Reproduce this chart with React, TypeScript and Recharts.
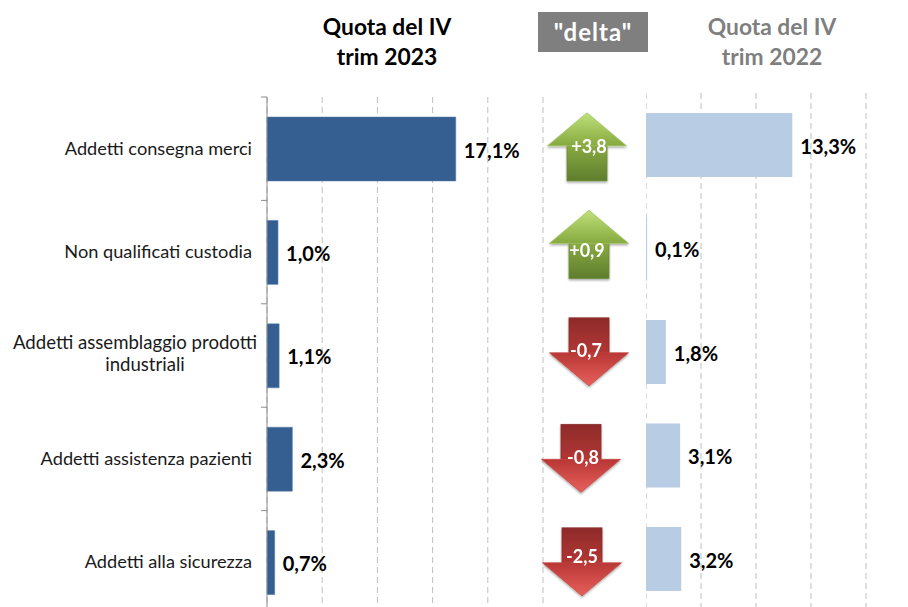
import { BarChart, Bar, XAxis, YAxis, CartesianGrid, LabelList } from 'recharts'

const categories = [
  'Addetti consegna merci',
  'Non qualificati custodia',
  'Addetti assemblaggio prodotti industriali',
  'Addetti assistenza pazienti',
  'Addetti alla sicurezza',
]
const quota2023 = [17.1, 1.0, 1.1, 2.3, 0.7]
const quota2022 = [13.3, 0.1, 1.8, 3.1, 3.2]
const delta = [3.8, 0.9, -0.7, -0.8, -2.5]

const gridTicks2023 = [0, 5, 10, 15, 20, 25]
const gridTicks2022 = [0, 5, 10, 15, 20]

const dataLeft = categories.map((name, i) => ({ name, value: quota2023[i] }))
const dataRight = categories.map((name, i) => ({ name, value: quota2022[i] }))
const dataDelta = categories.map((name, i) => ({ name, value: delta[i] }))

// arrows were hand placed in the original, so they sit a bit off the bands
const arrowOffsetX = [2, 4, 4, -4, -3]
const arrowOffsetY = [0, -6, -2, 1, 1]
const arrowTextX = [2, -2, -3, 2, 0]
const arrowTextY = [0, 6, -1, -1, -5]

const FONT = 'Lato, sans-serif'
const pct = (v: any) => `${Number(v).toFixed(1).replace('.', ',')}%`
const signed = (v: number) => `${v > 0 ? '+' : ''}${v.toFixed(1).replace('.', ',')}`

function ValueLabel({ x, y, width, height, value }: any) {
  return (
    <text
      x={x + width + 8}
      y={y + height / 2 + 1.5}
      dy="0.35em"
      fontFamily={FONT}
      fontWeight={700}
      fontSize={20}
      fill="#000"
    >
      {pct(value)}
    </text>
  )
}

function CategoryTick({ x, y, payload }: any) {
  const words = payload.value === categories[2]
    ? ['Addetti assemblaggio prodotti', 'industriali']
    : [payload.value]
  const band = 103.4
  return (
    <g>
      <line x1={261} x2={267} y1={y - band / 2} y2={y - band / 2} stroke="#8c8c8c" />
      {words.length === 1 ? (
        <text x={252} y={y} dy="0.32em" textAnchor="end" fontSize={18.2} fill="#1a1a1a" fontFamily={FONT}>
          {words[0]}
        </text>
      ) : (
        <text fontSize={18.6} fill="#1a1a1a" fontFamily={FONT} textAnchor="middle">
          <tspan x={135} y={y - 12} dy="0.32em">{words[0]}</tspan>
          <tspan x={145} y={y + 10} dy="0.32em">{words[1]}</tspan>
        </text>
      )}
    </g>
  )
}

function Arrow(props: any) {
  const { y, height, index, payload } = props
  const v = payload.value
  const cx = 60 + arrowOffsetX[index]
  const cy = y + height / 2 + arrowOffsetY[index]
  const up = v > 0
  const s = up ? 1 : -1
  const wing = cy - s * 1
  const tip = cy - s * 34
  const end = cy + s * 34
  return (
    <g filter="url(#arrowShadow)">
      <rect
        x={cx - 20}
        y={Math.min(wing, end)}
        width={40}
        height={Math.abs(end - wing)}
        fill={`url(#${up ? 'greenShaft' : 'redShaft'})`}
        stroke={up ? '#6b8a33' : '#8a2c2c'}
        strokeWidth={0.8}
      />
      <polygon
        points={`${cx},${tip} ${cx - 39.5},${wing} ${cx + 39.5},${wing}`}
        fill={`url(#${up ? 'greenHead' : 'redHead'})`}
        stroke={up ? '#a5c765' : '#c64643'}
        strokeWidth={0.8}
      />
      <text
        x={cx + arrowTextX[index]}
        y={cy + arrowTextY[index]}
        dy="0.35em"
        textAnchor="middle"
        fontSize={18}
        fontWeight={700}
        fill="#fff"
        fontFamily={FONT}
      >
        {signed(v)}
      </text>
    </g>
  )
}

const titleStyle: any = {
  position: 'absolute',
  width: 200,
  textAlign: 'center',
  fontFamily: FONT,
  fontWeight: 700,
  fontSize: 22.8,
  lineHeight: '30px',
}

export default function App() {
  return (
    <div style={{ position: 'relative', width: 908, height: 607, overflow: 'hidden', background: '#fff' }}>
      <style>{'body{margin:0}'}</style>

      <div style={{ ...titleStyle, left: 287, top: 11, color: '#000' }}>Quota del IV<br />trim 2023</div>
      <div style={{ ...titleStyle, left: 672, top: 11, color: '#7f7f7f' }}>Quota del IV<br />trim 2022</div>
      <div
        style={{
          position: 'absolute', left: 538, top: 12, width: 110, height: 40, background: '#7f7f7f', color: '#fff',
          fontFamily: FONT, fontWeight: 700, fontSize: 24, lineHeight: '40px', textAlign: 'center', letterSpacing: 1,
        }}
      >
        "delta"
      </div>

      <div style={{ position: 'absolute', left: 0, top: 0 }}>
        <BarChart
          width={560}
          height={640}
          data={dataLeft}
          layout="vertical"
          margin={{ top: 97, right: 17, bottom: 26, left: 0 }}
        >
          <CartesianGrid horizontal={false} stroke="#bfbfbf" strokeDasharray="6 4" />
          <XAxis type="number" hide domain={[0, 25]} ticks={gridTicks2023} />
          <YAxis
            type="category"
            dataKey="name"
            width={267}
            tick={<CategoryTick />}
            tickLine={false}
            axisLine={{ stroke: '#8c8c8c' }}
            interval={0}
          />
          <Bar dataKey="value" fill="#355f91" stroke="#5b7fab" strokeWidth={0.5} barSize={64} isAnimationActive={false}>
            <LabelList dataKey="value" content={<ValueLabel />} />
          </Bar>
        </BarChart>
      </div>

      <div style={{ position: 'absolute', left: 525, top: 0 }}>
        <BarChart
          width={120}
          height={640}
          data={dataDelta}
          layout="vertical"
          margin={{ top: 95, right: 0, bottom: 27.5, left: 0 }}
        >
          <defs>
            <linearGradient id="greenHead" x1="0" y1="0" x2="0" y2="1">
              <stop offset="0%" stopColor="#bfe07a" />
              <stop offset="100%" stopColor="#86a93f" />
            </linearGradient>
            <linearGradient id="greenShaft" x1="0" y1="0" x2="0" y2="1">
              <stop offset="0%" stopColor="#88aa42" />
              <stop offset="100%" stopColor="#5f7d2d" />
            </linearGradient>
            <linearGradient id="redShaft" x1="0" y1="0" x2="0" y2="1">
              <stop offset="0%" stopColor="#8e2b2b" />
              <stop offset="100%" stopColor="#b23633" />
            </linearGradient>
            <linearGradient id="redHead" x1="0" y1="0" x2="0" y2="1">
              <stop offset="0%" stopColor="#b83735" />
              <stop offset="100%" stopColor="#e8605c" />
            </linearGradient>
            <filter id="arrowShadow" x="-20%" y="-20%" width="140%" height="140%">
              <feDropShadow dx="0" dy="1.5" stdDeviation="1.2" floodColor="#000" floodOpacity="0.35" />
            </filter>
          </defs>
          <XAxis type="number" hide domain={[-5, 5]} />
          <YAxis type="category" dataKey="name" hide />
          <Bar dataKey="value" shape={<Arrow />} isAnimationActive={false} />
        </BarChart>
      </div>

      <div style={{ position: 'absolute', left: 646, top: 0 }}>
        <BarChart
          width={262}
          height={640}
          data={dataRight}
          layout="vertical"
          margin={{ top: 93, right: 42, bottom: 29.5, left: 0 }}
        >
          <CartesianGrid horizontal={false} stroke="#bfbfbf" strokeDasharray="6 4" />
          <XAxis type="number" hide domain={[0, 20]} ticks={gridTicks2022} />
          <YAxis type="category" dataKey="name" hide />
          <Bar dataKey="value" fill="#b8cce4" barSize={64} isAnimationActive={false}>
            <LabelList dataKey="value" content={<ValueLabel />} />
          </Bar>
        </BarChart>
      </div>
    </div>
  )
}
